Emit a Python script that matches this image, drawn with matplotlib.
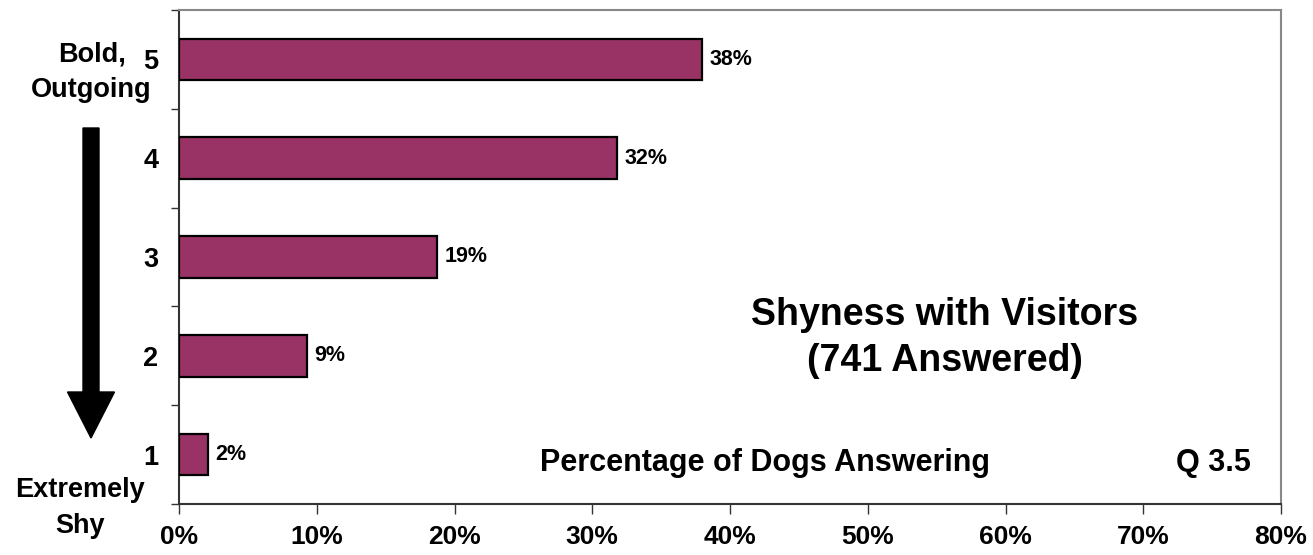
import numpy as np
import matplotlib.pyplot as plt
from matplotlib.patches import FancyArrow

plt.rcParams['font.family'] = ['Liberation Sans', 'DejaVu Sans']
plt.rcParams['font.weight'] = 'bold'

# data
levels = [1, 2, 3, 4, 5]
level_labels = ['1', '2', '3', '4', '5']
pct = [2.1, 9.3, 18.7, 31.8, 38.0]
pct_labels = ['2%', '9%', '19%', '32%', '38%']
xticks = [0, 10, 20, 30, 40, 50, 60, 70, 80]
xtick_labels = ['0%', '10%', '20%', '30%', '40%', '50%', '60%', '70%', '80%']

W, H = 1313, 555
fig = plt.figure(figsize=(W / 100, H / 100), dpi=100)
ax = fig.add_axes([179 / W, 1 - 504 / H, (1281 - 179) / W, (504 - 10) / H])

ax.barh(levels, pct, height=0.42, color='#993366', edgecolor='black', linewidth=1.6, zorder=3)
for y, v, s in zip(levels, pct, pct_labels):
    ax.text(v + 0.55, y, s, va='center', ha='left', fontsize=15.5, fontweight='bold')

ax.set_xlim(0, 80)
ax.set_ylim(0.5, 5.5)
ax.set_xticks(xticks)
ax.set_xticklabels(xtick_labels, fontsize=19, fontweight='bold')
ax.set_yticks(np.arange(0.5, 6, 1))
ax.set_yticklabels([])
ax.set_yticks(levels, minor=True)
ax.set_yticklabels(level_labels, minor=True, fontsize=19.5, fontweight='bold')
ax.tick_params(axis='y', which='major', direction='out', length=6, width=1, color='#333333')
ax.tick_params(axis='y', which='minor', length=0, pad=15)
ax.tick_params(axis='x', direction='out', length=7, width=1, color='#333333', pad=8)

for s in ['left', 'bottom']:
    ax.spines[s].set_color('#333333')
    ax.spines[s].set_linewidth(1.5)
for s in ['top', 'right']:
    ax.spines[s].set_color('#888888')
    ax.spines[s].set_linewidth(1.5)

def px(x, y):
    return x / W, 1 - y / H

ax.text(0.695, 0.336, 'Shyness with Visitors\n(741 Answered)', transform=ax.transAxes,
        ha='center', va='center', fontsize=27, fontweight='bold', linespacing=1.33)
ax.text(0.3276, 0.083, 'Percentage of Dogs Answering', transform=ax.transAxes,
        ha='left', va='center', fontsize=22, fontweight='bold')
ax.text(0.973, 0.083, 'Q 3.5', transform=ax.transAxes,
        ha='right', va='center', fontsize=22, fontweight='bold')

fig.text(*px(126, 62), 'Bold,', ha='right', va='baseline', fontsize=19.5, fontweight='bold')
fig.text(*px(152, 97), 'Outgoing', ha='right', va='baseline', fontsize=19.5, fontweight='bold')
fig.text(*px(80, 497), 'Extremely', ha='center', va='baseline', fontsize=19.5, fontweight='bold')
fig.text(*px(80, 533), 'Shy', ha='center', va='baseline', fontsize=19.5, fontweight='bold')

x0, y0 = px(91, 128)
_, y1 = px(91, 438)
arrow = FancyArrow(x0, y0, 0, y1 - y0, width=16 / W, head_width=47 / W,
                   head_length=46 / H, length_includes_head=True,
                   color='black', transform=fig.transFigure)
fig.patches.append(arrow)

fig.savefig('out.png', dpi=100)
